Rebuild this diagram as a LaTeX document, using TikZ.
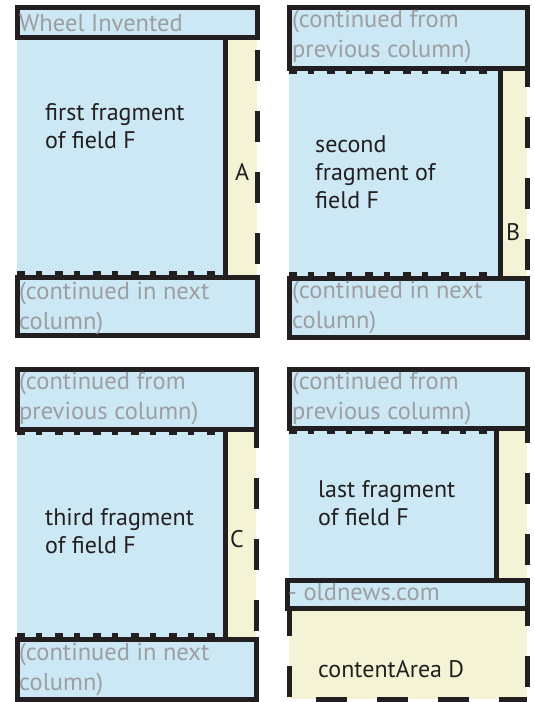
\documentclass[tikz,border=0pt]{standalone}
\usepackage{fontspec}
\setmainfont{PT Sans}
\usepackage{tikz}
\definecolor{fieldblue}{HTML}{CCE8F4}
\definecolor{areacream}{HTML}{F4F3D6}
\definecolor{labelgrey}{HTML}{9C9EA1}
\definecolor{inkblack}{HTML}{231F20}

\tikzset{
  areaedge/.style={draw=inkblack, line width=5pt, dash pattern=on 31pt off 30pt},
  bandbox/.style={fill=fieldblue, draw=inkblack, line width=5pt},
  fragside/.style={draw=inkblack, line width=5pt},
  fragcut/.style={draw=inkblack, line width=4pt, dash pattern=on 8pt off 11pt on 6pt off 13pt},
  greytext/.style={text=labelgrey, anchor=base west, inner sep=0pt, align=left,
    font=\fontsize{24.5}{29.5}\selectfont},
  fragtext/.style={text=inkblack, anchor=base west, inner sep=0pt, align=left,
    font=\fontsize{24}{28}\selectfont}
}

\begin{document}
\begin{tikzpicture}[x=1pt, y=-1pt]
    \useasboundingbox (0,0) rectangle (535,702);
    % first column
    \fill[areacream] (17,37) rectangle (257,277);
    \draw[areaedge, dash phase=48pt] (257,37) -- (257,277);
    \fill[fieldblue] (17,37) rectangle (225,277);
    \draw[fragcut] (17,273) -- (225,273);
    \draw[fragside] (225,37) -- (225,277);
    \draw[bandbox] (17,7) rectangle (257,37);
    \draw[bandbox] (17,277) rectangle (257,335);
    \node[greytext] (headA) at (19,31) {Wheel Invented};
    \node[fragtext] (fragA) at (45,148) {first fragment\\of field F};
    \node[fragtext] (areaA) at (235,180) {A};
    \node[greytext] (footA) at (19,329) {(continued in next\\column)};
    % second column
    \fill[areacream] (289,68) rectangle (527,278);
    \draw[areaedge, dash phase=12pt] (527,68) -- (527,278);
    \fill[fieldblue] (289,68) rectangle (500,278);
    \draw[fragcut] (289,72) -- (500,72);
    \draw[fragcut] (289,274) -- (500,274);
    \draw[fragside] (500,68) -- (500,278);
    \draw[bandbox] (289,7) rectangle (527,68);
    \draw[bandbox] (289,278) rectangle (527,337);
    \node[greytext] (headB) at (292,57) {(continued from\\previous column)};
    \node[fragtext] (fragB) at (315,208) {second\\fragment of\\field F};
    \node[fragtext] (areaB) at (506,240) {B};
    \node[greytext] (footB) at (292,328) {(continued in next\\column)};
    % third column
    \fill[areacream] (17,429) rectangle (256,639);
    \draw[areaedge, dash phase=12pt] (256,429) -- (256,639);
    \fill[fieldblue] (17,429) rectangle (225,639);
    \draw[fragcut] (17,433) -- (225,433);
    \draw[fragcut] (17,635) -- (225,635);
    \draw[fragside] (225,429) -- (225,639);
    \draw[bandbox] (17,369) rectangle (256,429);
    \draw[bandbox] (17,639) rectangle (256,699);
    \node[greytext] (headC) at (19,419) {(continued from\\previous column)};
    \node[fragtext] (fragC) at (45,553) {third fragment\\of field F};
    \node[fragtext] (areaC) at (230,547) {C};
    \node[greytext] (footC) at (19,690) {(continued in next\\column)};
    % last column
    \fill[areacream] (289,428) rectangle (527,699);
    \draw[areaedge, dash phase=16pt] (527,428) -- (527,699);
    \draw[areaedge, dash phase=3pt] (527,699) -- (289,699);
    \draw[areaedge, dash phase=59pt] (289,699) -- (289,608);
    \fill[fieldblue] (289,428) rectangle (496,580);
    \draw[fragcut] (289,432) -- (496,432);
    \draw[fragside] (496,428) -- (496,580);
    \draw[bandbox] (289,369) rectangle (527,428);
    \draw[bandbox] (287,580) rectangle (527,608);
    \node[greytext] (headD) at (292,419) {(continued from\\previous column)};
    \node[fragtext] (fragD) at (318,525) {last fragment\\of field F};
    \node[greytext] (footD) at (288,600) {- oldnews.com};
    \node[fragtext] (areaD) at (318,677) {contentArea D};
\end{tikzpicture}
\end{document}
